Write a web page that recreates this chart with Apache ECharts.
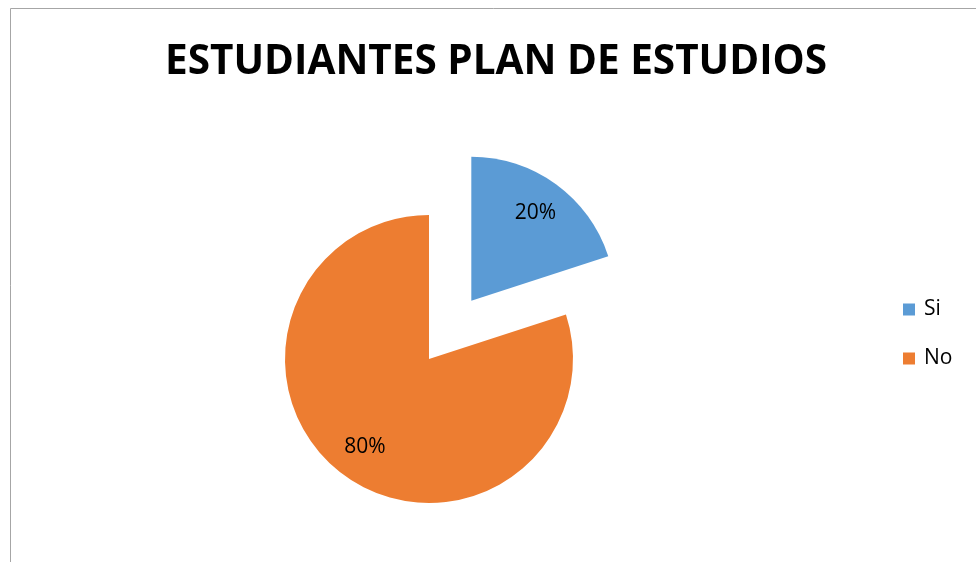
<!DOCTYPE html>
<html>
<head>
<meta charset="utf-8">
<script src="https://cdn.jsdelivr.net/npm/echarts@6/dist/echarts.min.js"></script>
<style>
  html, body { margin: 0; padding: 0; background: #fff; }
  #chart { width: 976px; height: 562px; }
</style>
</head>
<body>
<div id="chart"></div>
<script>
const titleText = 'ESTUDIANTES PLAN DE ESTUDIOS'
const categories = ['Si', 'No']
const values = [20, 80]
const colors = ['#5B9BD5', '#ED7D31']

const chart = echarts.init(document.getElementById('chart'))

const pieData = categories.map((name, i) => ({
  name: name,
  value: values[i],
  selected: i === 0,
  itemStyle: { color: colors[i] },
}))

// labels sit further out than the slice midpoint, so a transparent ring carries them
const labelData = categories.map((name, i) => ({
  name: name,
  value: values[i],
  selected: i === 0,
}))

const option = {
  animation: false,
  title: {
    text: titleText,
    left: 160,
    top: 37,
    textStyle: {
      fontFamily: 'Open Sans',
      fontWeight: 'bold',
      fontSize: 40.5,
      color: '#000',
    },
  },
  legend: {
    orient: 'vertical',
    left: 898,
    top: 294,
    itemWidth: 12,
    itemHeight: 12,
    itemGap: 28,
    icon: 'rect',
    data: categories,
    textStyle: { fontFamily: 'Open Sans', fontSize: 21, color: '#000', padding: [0, 0, 0, 4] },
  },
  graphic: [
    {
      type: 'rect',
      shape: { x: 10.5, y: 8.5, width: 1000, height: 600 },
      style: { fill: 'none', stroke: '#a6a6a6', lineWidth: 1 },
      silent: true,
    },
  ],
  series: [
    {
      type: 'pie',
      center: [429, 359],
      radius: 144,
      startAngle: 90,
      clockwise: true,
      selectedMode: 'single',
      selectedOffset: 72,
      label: { show: false },
      labelLine: { show: false },
      emphasis: { disabled: true },
      data: pieData,
    },
    {
      type: 'pie',
      center: [429, 359],
      radius: [68, 144],
      startAngle: 90,
      clockwise: true,
      selectedMode: 'single',
      selectedOffset: 72,
      silent: true,
      itemStyle: { color: 'rgba(0,0,0,0)' },
      label: {
        show: true,
        position: 'inside',
        formatter: '{d}%',
        fontFamily: 'Open Sans',
        fontSize: 21,
        color: '#000',
      },
      labelLine: { show: false },
      emphasis: { disabled: true },
      data: labelData,
    },
  ],
}

chart.setOption(option)
</script>
</body>
</html>
